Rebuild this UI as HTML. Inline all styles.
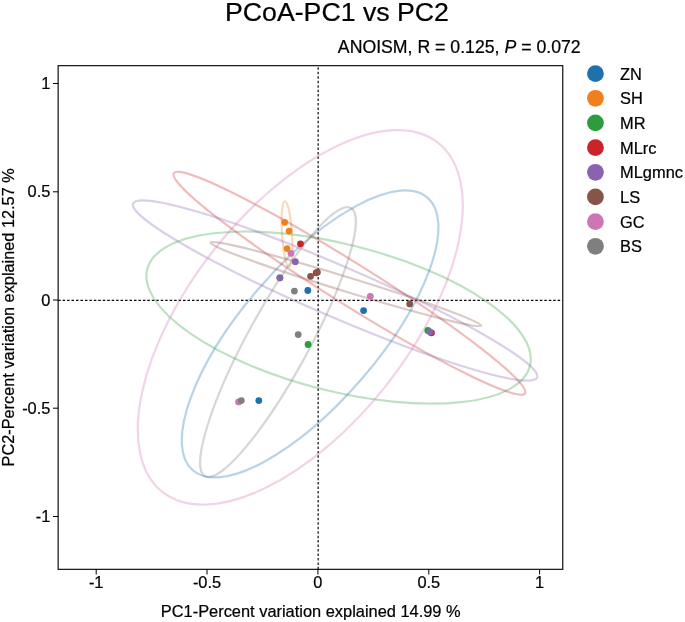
<!DOCTYPE html>
<html><head><meta charset="utf-8"><title>PCoA-PC1 vs PC2</title>
<style>
html,body{margin:0;padding:0;background:#fff;}
svg{display:block;font-family:"Liberation Sans",Arial,sans-serif;fill:#000;}
text{stroke:#000;stroke-width:0.22px;}
</style></head><body>
<svg width="685" height="622" viewBox="0 0 685 622">
<rect width="685" height="622" fill="#fff"/>
<text x="337.0" y="20.5" font-size="26.7" text-anchor="middle">PCoA-PC1 vs PC2</text>
<text x="580.7" y="52.9" font-size="17.7" text-anchor="end">ANOISM, R = 0.125, <tspan font-style="italic">P</tspan> = 0.072</text>
<g stroke="#000" stroke-width="1.15" stroke-dasharray="2.5 1.96" fill="none"><line x1="58.15" y1="300.3" x2="562.75" y2="300.3"/><line x1="318.15" y1="569.35" x2="318.15" y2="65.65"/></g>
<g fill="none" stroke-width="2.2" stroke-opacity="0.31">
<ellipse cx="310.1" cy="333.9" rx="179.9" ry="68.5" transform="rotate(130.72 310.1 333.9)" stroke="#1e71ac"/>
<ellipse cx="287.0" cy="234.0" rx="32.8" ry="5.0" transform="rotate(86.36 287.0 234.0)" stroke="#f0801f"/>
<ellipse cx="338.6" cy="317.6" rx="197.4" ry="73.4" transform="rotate(-165.79 338.6 317.6)" stroke="#2d9c3c"/>
<ellipse cx="349.4" cy="283.3" rx="207.2" ry="20.8" transform="rotate(-147.93 349.4 283.3)" stroke="#cb2428"/>
<ellipse cx="335.1" cy="290.5" rx="220.0" ry="25.6" transform="rotate(-156.69 335.1 290.5)" stroke="#8a63ae"/>
<ellipse cx="345.9" cy="284.1" rx="141.7" ry="7.2" transform="rotate(-162.92 345.9 284.1)" stroke="#87544a"/>
<ellipse cx="300.3" cy="317.4" rx="222.4" ry="109.6" transform="rotate(128.31 300.3 317.4)" stroke="#d075b4"/>
<ellipse cx="278.0" cy="342.1" rx="152.7" ry="30.9" transform="rotate(118.55 278.0 342.1)" stroke="#7f7f7f"/>
</g>
<g>
<circle cx="307.8" cy="290.5" r="3.4" fill="#1e71ac"/>
<circle cx="363.6" cy="310.6" r="3.4" fill="#1e71ac"/>
<circle cx="258.8" cy="400.6" r="3.4" fill="#1e71ac"/>
<circle cx="284.7" cy="222.3" r="3.4" fill="#f0801f"/>
<circle cx="289.1" cy="231.1" r="3.4" fill="#f0801f"/>
<circle cx="287.1" cy="248.6" r="3.4" fill="#f0801f"/>
<circle cx="279.9" cy="277.8" r="3.4" fill="#2d9c3c"/>
<circle cx="308.1" cy="344.5" r="3.4" fill="#2d9c3c"/>
<circle cx="427.8" cy="330.5" r="3.4" fill="#2d9c3c"/>
<circle cx="300.5" cy="243.8" r="3.4" fill="#cb2428"/>
<circle cx="431.5" cy="332.8" r="3.4" fill="#cb2428"/>
<circle cx="316.2" cy="272.8" r="3.4" fill="#cb2428"/>
<circle cx="295.3" cy="261.7" r="3.4" fill="#8a63ae"/>
<circle cx="279.9" cy="277.8" r="3.4" fill="#8a63ae"/>
<circle cx="430.1" cy="332.0" r="3.4" fill="#8a63ae"/>
<circle cx="310.6" cy="276.3" r="3.4" fill="#87544a"/>
<circle cx="317.4" cy="272.2" r="3.4" fill="#87544a"/>
<circle cx="409.7" cy="303.9" r="3.4" fill="#87544a"/>
<circle cx="291.0" cy="253.3" r="3.4" fill="#d075b4"/>
<circle cx="370.3" cy="296.3" r="3.4" fill="#d075b4"/>
<circle cx="238.6" cy="401.9" r="3.4" fill="#d075b4"/>
<circle cx="294.4" cy="291.1" r="3.4" fill="#7f7f7f"/>
<circle cx="298.2" cy="334.6" r="3.4" fill="#7f7f7f"/>
<circle cx="241.3" cy="400.6" r="3.4" fill="#7f7f7f"/>
</g>
<rect x="58.15" y="65.65" width="504.60" height="503.70" fill="none" stroke="#1a1a1a" stroke-width="1.25"/>
<g stroke="#000" stroke-width="1">
<line x1="96.2" y1="569.35" x2="96.2" y2="574.55"/><line x1="52.95" y1="516.5" x2="58.15" y2="516.5"/>
<line x1="207.0" y1="569.35" x2="207.0" y2="574.55"/><line x1="52.95" y1="408.2" x2="58.15" y2="408.2"/>
<line x1="317.9" y1="569.35" x2="317.9" y2="574.55"/><line x1="52.95" y1="300.0" x2="58.15" y2="300.0"/>
<line x1="428.8" y1="569.35" x2="428.8" y2="574.55"/><line x1="52.95" y1="191.8" x2="58.15" y2="191.8"/>
<line x1="539.6" y1="569.35" x2="539.6" y2="574.55"/><line x1="52.95" y1="83.5" x2="58.15" y2="83.5"/>
</g>
<g font-size="16.4">
<text x="96.2" y="588.2" text-anchor="middle">-1</text><text x="50.4" y="522.1" text-anchor="end">-1</text>
<text x="207.0" y="588.2" text-anchor="middle">-0.5</text><text x="50.4" y="413.9" text-anchor="end">-0.5</text>
<text x="317.9" y="588.2" text-anchor="middle">0</text><text x="50.4" y="305.6" text-anchor="end">0</text>
<text x="428.8" y="588.2" text-anchor="middle">0.5</text><text x="50.4" y="197.3" text-anchor="end">0.5</text>
<text x="539.6" y="588.2" text-anchor="middle">1</text><text x="50.4" y="89.1" text-anchor="end">1</text>
</g>
<text x="310.7" y="616.6" font-size="16.4" text-anchor="middle">PC1-Percent variation explained 14.99 %</text>
<text transform="translate(14.1,466.5) rotate(-90)" font-size="16.4" textLength="298.3" lengthAdjust="spacingAndGlyphs">PC2-Percent variation explained 12.57 %</text>
<g font-size="16.4">
<circle cx="595.45" cy="73.6" r="8.4" fill="#1e71ac"/><text x="620.1" y="79.7">ZN</text>
<circle cx="595.45" cy="98.3" r="8.4" fill="#f0801f"/><text x="620.1" y="104.4">SH</text>
<circle cx="595.45" cy="122.9" r="8.4" fill="#2d9c3c"/><text x="620.1" y="129.0">MR</text>
<circle cx="595.45" cy="147.6" r="8.4" fill="#cb2428"/><text x="620.1" y="153.7">MLrc</text>
<circle cx="595.45" cy="172.3" r="8.4" fill="#8a63ae"/><text x="620.1" y="178.4">MLgmnc</text>
<circle cx="595.45" cy="196.9" r="8.4" fill="#87544a"/><text x="620.1" y="203.0">LS</text>
<circle cx="595.45" cy="221.6" r="8.4" fill="#d075b4"/><text x="620.1" y="227.7">GC</text>
<circle cx="595.45" cy="246.3" r="8.4" fill="#7f7f7f"/><text x="620.1" y="252.4">BS</text>
</g>
</svg></body></html>
